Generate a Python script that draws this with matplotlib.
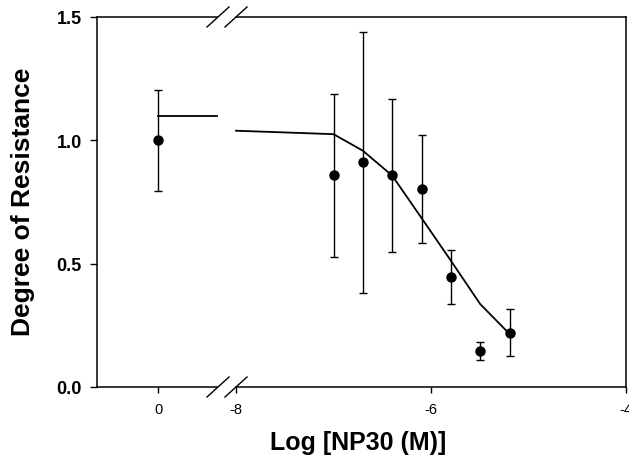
import numpy as np
import matplotlib
matplotlib.use("Agg")
import matplotlib.pyplot as plt

plt.rcParams['font.family'] = ['Liberation Sans', 'DejaVu Sans']

# control (no NP30), plotted on the left part of the broken axis
ctrl_x = [0]
ctrl_y = [1.0]
ctrl_err = [0.205]
ctrl_fit_x = [0, 0.605]
ctrl_fit_y = [1.097, 1.097]

# log concentration series (doubling dilutions)
log_conc = [-7.0, -6.699, -6.398, -6.097, -5.796, -5.495, -5.194]
resist = [0.859, 0.911, 0.858, 0.803, 0.447, 0.147, 0.220]
resist_err = [0.33, 0.53, 0.31, 0.22, 0.11, 0.037, 0.095]

# fitted curve
fit_x = [-8.0, -7.0, -6.699, -6.398, -6.097, -5.796, -5.495, -5.194]
fit_y = [1.039, 1.025, 0.958, 0.857, 0.685, 0.512, 0.336, 0.215]

W, H = 629, 460
fig = plt.figure(figsize=(W / 100, H / 100), dpi=100)

bot = (H - 388) / H
hgt = 370 / H
axL = fig.add_axes([97 / W, bot, 120 / W, hgt])
axR = fig.add_axes([236 / W, bot, 390 / W, hgt], sharey=axL)

lw = 1.1
for ax in (axL, axR):
    for s in ax.spines.values():
        s.set_linewidth(lw)
axL.spines['right'].set_visible(False)
axR.spines['left'].set_visible(False)

axL.errorbar(ctrl_x, ctrl_y, yerr=ctrl_err, fmt='o', color='black', ms=6.5,
             elinewidth=1.0, capsize=3.2, capthick=1.0, clip_on=False)
axL.plot(ctrl_fit_x, ctrl_fit_y, color='black', lw=1.3, clip_on=False)

axR.errorbar(log_conc, resist, yerr=resist_err, fmt='o', color='black', ms=6.5,
             elinewidth=1.0, capsize=3.2, capthick=1.0)
axR.plot(fit_x, fit_y, color='black', lw=1.3, clip_on=False)

axL.set_xlim(-0.626, 0.605)
axR.set_xlim(-8, -4)
axL.set_ylim(0, 1.5)

axL.set_xticks([0])
axL.set_xticklabels(['0'])
axR.set_xticks([-8, -6, -4])
axR.set_xticklabels(['-8', '-6', '-4'])
axL.set_yticks([0, 0.5, 1.0, 1.5])
axL.set_yticklabels(['0.0', '0.5', '1.0', '1.5'])
axR.tick_params(axis='y', left=False, labelleft=False)
for ax in (axL, axR):
    ax.tick_params(axis='x', direction='out', length=4, width=1, labelsize=10.5, pad=7)
axL.tick_params(axis='y', direction='out', length=5, width=1, pad=6, labelsize=13)
for lab in axL.get_yticklabels():
    lab.set_fontweight('bold')

# break marks
def slash(xc, yc):
    fig.lines.append(plt.Line2D([(xc - 11) / W, (xc + 11) / W],
                                [1 - (yc + 10) / H, 1 - (yc - 10) / H],
                                transform=fig.transFigure, color='black', lw=1.0))

for yc in (18, 388):
    slash(218, yc)
    slash(236, yc)

fig.text(358 / W, 1 - 443 / H, 'Log [NP30 (M)]', ha='center', va='center',
         fontsize=18, fontweight='bold')
fig.text(23 / W, 1 - 202 / H, 'Degree of Resistance', ha='center', va='center',
         rotation=90, fontsize=19, fontweight='bold')

fig.savefig('out.png', dpi=100)
